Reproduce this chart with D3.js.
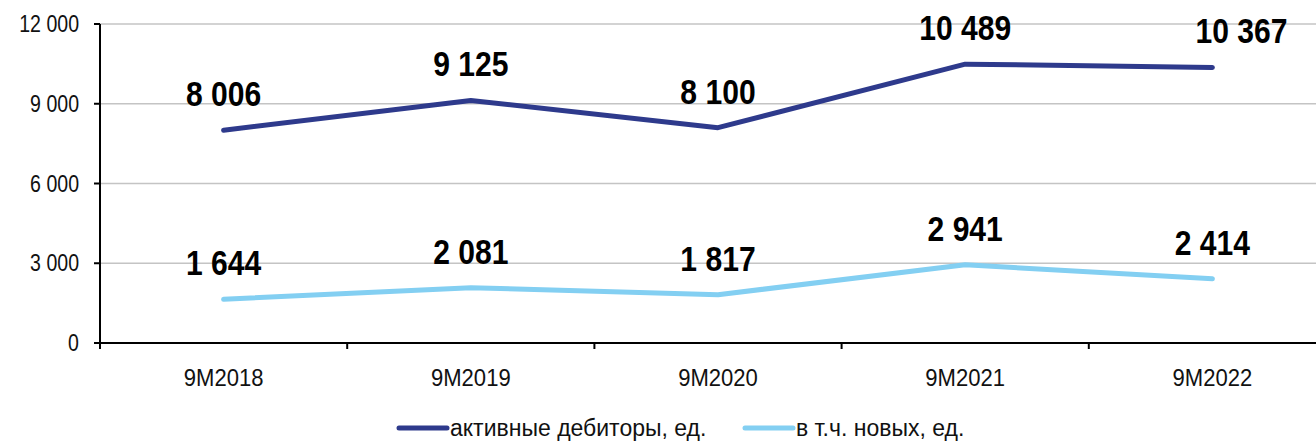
<!DOCTYPE html>
<html>
<head>
<meta charset="utf-8">
<script src="https://cdn.jsdelivr.net/npm/d3@7"></script>
<style>
  body { margin: 0; background: #fff; }
  svg { display: block; font-family: "Liberation Sans", Arial, sans-serif; }
</style>
</head>
<body>
<svg id="chart" width="1316" height="443"></svg>
<script>
const categories = ["9M2018", "9M2019", "9M2020", "9M2021", "9M2022"];
const activeDebtors = [8006, 9125, 8100, 10489, 10367];
const newDebtors = [1644, 2081, 1817, 2941, 2414];
const seriesNames = ["активные дебиторы, ед.", "в т.ч. новых, ед."];
const yTicks = [0, 3000, 6000, 9000, 12000];

const width = 1316, height = 443;
const marginLeft = 100, marginTop = 24, bottomY = 343;
const colors = ["#2e3a8c", "#83cff2"];

const svg = d3.select("#chart");
const ru = d3.formatLocale({ decimal: ",", thousands: "\u00a0", grouping: [3], currency: ["", ""] });
const fmt = ru.format(",d");

// the original uses a narrow font, so squeeze text horizontally
const narrow = (sel, x, y, sx) =>
  sel.attr("x", 0).attr("y", 0)
    .attr("transform", (d, i) => `translate(${x(d, i)},${y(d, i)}) scale(${sx},1)`);

// bands run past the right edge, like the original picture
const x = d3.scaleBand(categories, [marginLeft, marginLeft + 5 * 247.2]);
const y = d3.scaleLinear([0, 12000], [bottomY, marginTop]);
const cx = (i) => x(categories[i]) + x.bandwidth() / 2;

// grid
svg.append("g")
  .selectAll("line")
  .data(yTicks.filter(d => d > 0))
  .join("line")
  .attr("x1", marginLeft).attr("x2", width)
  .attr("y1", d => y(d)).attr("y2", d => y(d))
  .attr("stroke", "#c4c4c4").attr("stroke-width", 1.5);

// y axis
const yAxis = svg.append("g");
yAxis.append("line")
  .attr("x1", marginLeft).attr("x2", marginLeft)
  .attr("y1", marginTop).attr("y2", bottomY + 6)
  .attr("stroke", "#000").attr("stroke-width", 2);
yAxis.selectAll(".tk")
  .data(yTicks)
  .join("line")
  .attr("class", "tk")
  .attr("x1", marginLeft - 6).attr("x2", marginLeft)
  .attr("y1", d => y(d)).attr("y2", d => y(d))
  .attr("stroke", "#000").attr("stroke-width", 2);
yAxis.selectAll("text")
  .data(yTicks)
  .join("text")
  .call(narrow, () => 79, d => y(d) + 8, 0.85)
  .attr("text-anchor", "end")
  .attr("font-size", 23)
  .attr("fill", "#111")
  .text(d => fmt(d));

// x axis
const xAxis = svg.append("g").attr("transform", `translate(0,${bottomY})`);
xAxis.append("line")
  .attr("x1", marginLeft).attr("x2", width)
  .attr("stroke", "#000").attr("stroke-width", 2);
xAxis.selectAll(".sep")
  .data(categories.slice(1))
  .join("line")
  .attr("class", "sep")
  .attr("x1", d => x(d)).attr("x2", d => x(d))
  .attr("y1", 0).attr("y2", 6)
  .attr("stroke", "#000").attr("stroke-width", 2);
xAxis.selectAll("text")
  .data(categories)
  .join("text")
  .call(narrow, (d, i) => cx(i), () => 43, 0.92)
  .attr("text-anchor", "middle")
  .attr("font-size", 24)
  .attr("fill", "#111")
  .text(d => d);

// lines
const line = d3.line()
  .x((d, i) => cx(i))
  .y(d => y(d));

[activeDebtors, newDebtors].forEach((values, s) => {
  svg.append("path")
    .datum(values)
    .attr("fill", "none")
    .attr("stroke", colors[s])
    .attr("stroke-width", 5)
    .attr("stroke-linecap", "round")
    .attr("stroke-linejoin", "round")
    .attr("d", line);

  svg.append("g")
    .selectAll("text")
    .data(values)
    .join("text")
    .call(narrow,
      (d, i) => cx(i) + (s === 0 && i === values.length - 1 ? 29 : 0),
      d => y(d) - 24, 0.86)
    .attr("text-anchor", "middle")
    .attr("font-size", 35)
    .attr("font-weight", "bold")
    .attr("fill", "#000")
    .text(d => fmt(d));
});

// legend
const legendX = [397, 743];
const legend = svg.append("g")
  .selectAll("g")
  .data(seriesNames)
  .join("g")
  .attr("transform", (d, i) => `translate(${legendX[i]},428)`);
legend.append("line")
  .attr("x1", 2).attr("x2", 50)
  .attr("stroke", (d, i) => colors[i])
  .attr("stroke-width", 5)
  .attr("stroke-linecap", "round");
legend.append("text")
  .call(narrow, () => 53, () => 8, 1.0)
  .attr("font-size", 23)
  .attr("fill", "#111")
  .text(d => d);
</script>
</body>
</html>
